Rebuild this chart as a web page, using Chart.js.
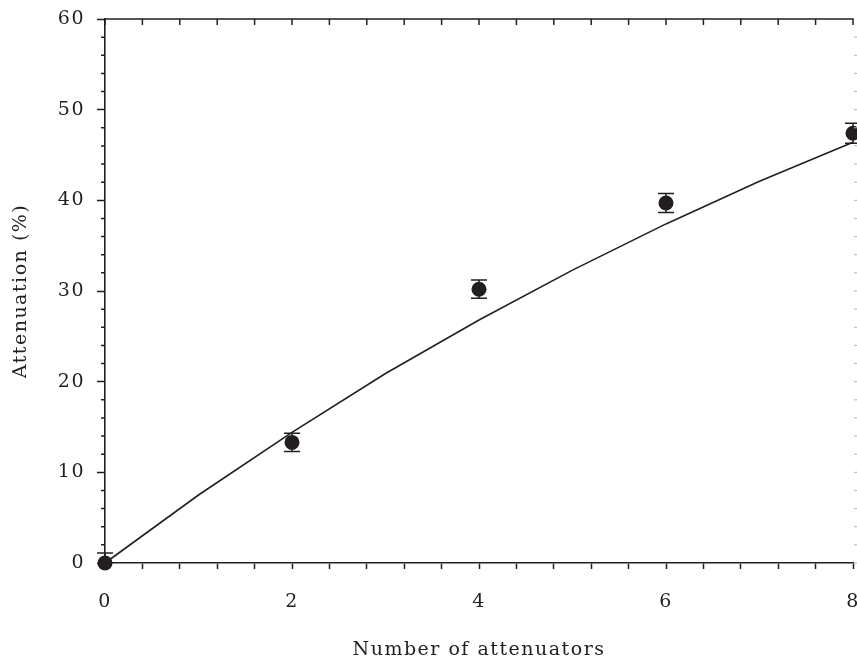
<!DOCTYPE html>
<html>
<head>
<meta charset="utf-8">
<script src="https://cdn.jsdelivr.net/npm/chart.js@4/dist/chart.umd.min.js"></script>
<style>
  html, body { margin: 0; padding: 0; background: #ffffff; overflow: hidden; }
  #wrap { width: 857px; height: 661px; }
  canvas { display: block; }
</style>
</head>
<body>
<div id="wrap"><canvas id="c" width="857" height="661"></canvas></div>
<script>
// Measured attenuation versus number of attenuators
const attenuatorCount = [0, 2, 4, 6, 8];
const attenuation = [0, 13.3, 30.2, 39.7, 47.4];
const attenuationErr = [1.1, 1.0, 1.0, 1.05, 1.1];

// Fitted curve
const fitCount = [0, 1, 2, 3, 4, 5, 6, 7, 8];
const fitAttenuation = [0, 7.5, 14.4, 20.9, 26.8, 32.3, 37.4, 42.1, 46.4];

// Axis settings
const xRange = [0, 8];
const yRange = [0, 60];
const xLabelStep = 2;
const yLabelStep = 10;

const INK = '#231f20';
const FONT = "'DejaVu Serif', 'Liberation Serif', serif";
const SPACING = '1.5px';

function isMultiple(v, step) {
  const r = v / step;
  return Math.abs(r - Math.round(r)) < 1e-6;
}

// Letter spacing for all text, short minor ticks on the left,
// inward ticks on top/right, top frame line
const framePlugin = {
  id: 'frame',
  beforeDraw(chart) {
    chart.ctx.letterSpacing = SPACING;
  },
  afterDraw(chart) {
    const { ctx, chartArea: { left, right, top }, scales: { x, y } } = chart;
    ctx.save();
    ctx.strokeStyle = INK;
    ctx.lineWidth = 1.5;
    ctx.beginPath();
    ctx.moveTo(left - 0.75, top);
    ctx.lineTo(right + 0.75, top);
    x.ticks.forEach(t => {
      const px = x.getPixelForValue(t.value);
      ctx.moveTo(px, top);
      ctx.lineTo(px, top + 6);
    });
    y.ticks.forEach(t => {
      if (isMultiple(t.value, yLabelStep)) return;
      const py = y.getPixelForValue(t.value);
      ctx.moveTo(left, py);
      ctx.lineTo(left - 4, py);
    });
    ctx.stroke();
    ctx.strokeStyle = '#b5b3b3';
    ctx.lineWidth = 1;
    ctx.beginPath();
    y.ticks.forEach(t => {
      if (t.value === yRange[1]) return;
      const py = y.getPixelForValue(t.value);
      ctx.moveTo(right + 4, py);
      ctx.lineTo(right + 1, py);
    });
    ctx.stroke();
    ctx.restore();
  }
};

// Vertical error bars with caps, drawn beneath the markers
const errorBarPlugin = {
  id: 'errorBars',
  beforeDatasetsDraw(chart) {
    const { ctx, chartArea: { top, bottom }, scales: { x, y } } = chart;
    ctx.save();
    ctx.beginPath();
    ctx.rect(0, top, chart.width, bottom - top);
    ctx.clip();
    ctx.strokeStyle = INK;
    ctx.lineWidth = 1.5;
    ctx.beginPath();
    attenuatorCount.forEach((n, i) => {
      const px = x.getPixelForValue(n);
      const hi = y.getPixelForValue(attenuation[i] + attenuationErr[i]);
      const lo = y.getPixelForValue(attenuation[i] - attenuationErr[i]);
      ctx.moveTo(px, hi); ctx.lineTo(px, lo);
      ctx.moveTo(px - 8, hi); ctx.lineTo(px + 8, hi);
      ctx.moveTo(px - 8, lo); ctx.lineTo(px + 8, lo);
    });
    ctx.stroke();
    ctx.restore();
  }
};

new Chart(document.getElementById('c'), {
  type: 'scatter',
  data: {
    datasets: [
      {
        label: 'Measured',
        data: attenuatorCount.map((n, i) => ({ x: n, y: attenuation[i] })),
        pointRadius: 7.5,
        pointHoverRadius: 7.5,
        pointBackgroundColor: INK,
        pointBorderColor: INK,
        pointBorderWidth: 0,
        showLine: false,
        clip: false
      },
      {
        label: 'Fit',
        type: 'line',
        data: fitCount.map((n, i) => ({ x: n, y: fitAttenuation[i] })),
        borderColor: INK,
        borderWidth: 1.6,
        pointRadius: 0,
        tension: 0,
        fill: false,
        clip: false
      }
    ]
  },
  options: {
    responsive: false,
    animation: false,
    events: [],
    layout: { autoPadding: false, padding: { top: 19, right: 4, left: 0, bottom: 0 } },
    plugins: { legend: { display: false }, tooltip: { enabled: false } },
    scales: {
      x: {
        type: 'linear',
        position: 'bottom',
        min: xRange[0],
        max: xRange[1],
        afterFit(scale) {
          scale.height = 98;
          scale.paddingLeft = 0;
          scale.paddingRight = 0;
        },
        ticks: {
          stepSize: 0.4,
          autoSkip: false,
          maxRotation: 0,
          padding: 22,
          color: INK,
          font: { family: FONT, size: 19 },
          callback: v => (isMultiple(v, xLabelStep) ? String(Math.round(v)) : '')
        },
        grid: {
          drawOnChartArea: false,
          drawTicks: true,
          tickLength: 6,
          tickWidth: 1.5,
          tickColor: INK
        },
        border: { display: true, color: INK, width: 1.6 },
        title: {
          display: true,
          text: 'Number of attenuators',
          color: INK,
          font: { family: FONT, size: 19 },
          padding: { top: 0, bottom: 0 }
        }
      },
      y: {
        type: 'linear',
        min: yRange[0],
        max: yRange[1],
        afterFit(scale) {
          scale.width = 105;
          scale.paddingTop = 0;
          scale.paddingBottom = 0;
        },
        ticks: {
          stepSize: 2,
          autoSkip: false,
          padding: 12,
          color: INK,
          font: { family: FONT, size: 19 },
          callback: v => (isMultiple(v, yLabelStep) ? String(Math.round(v)) : '')
        },
        grid: {
          drawOnChartArea: false,
          drawTicks: true,
          tickLength: 8,
          tickWidth: 1.5,
          tickColor: ctx => (ctx.tick && isMultiple(ctx.tick.value, yLabelStep) ? INK : 'rgba(0,0,0,0)')
        },
        border: { display: true, color: INK, width: 1.6 },
        title: {
          display: true,
          text: 'Attenuation (%)',
          color: INK,
          font: { family: FONT, size: 19 },
          padding: { top: 10, bottom: 0 }
        }
      }
    }
  },
  plugins: [framePlugin, errorBarPlugin]
});
</script>
</body>
</html>
